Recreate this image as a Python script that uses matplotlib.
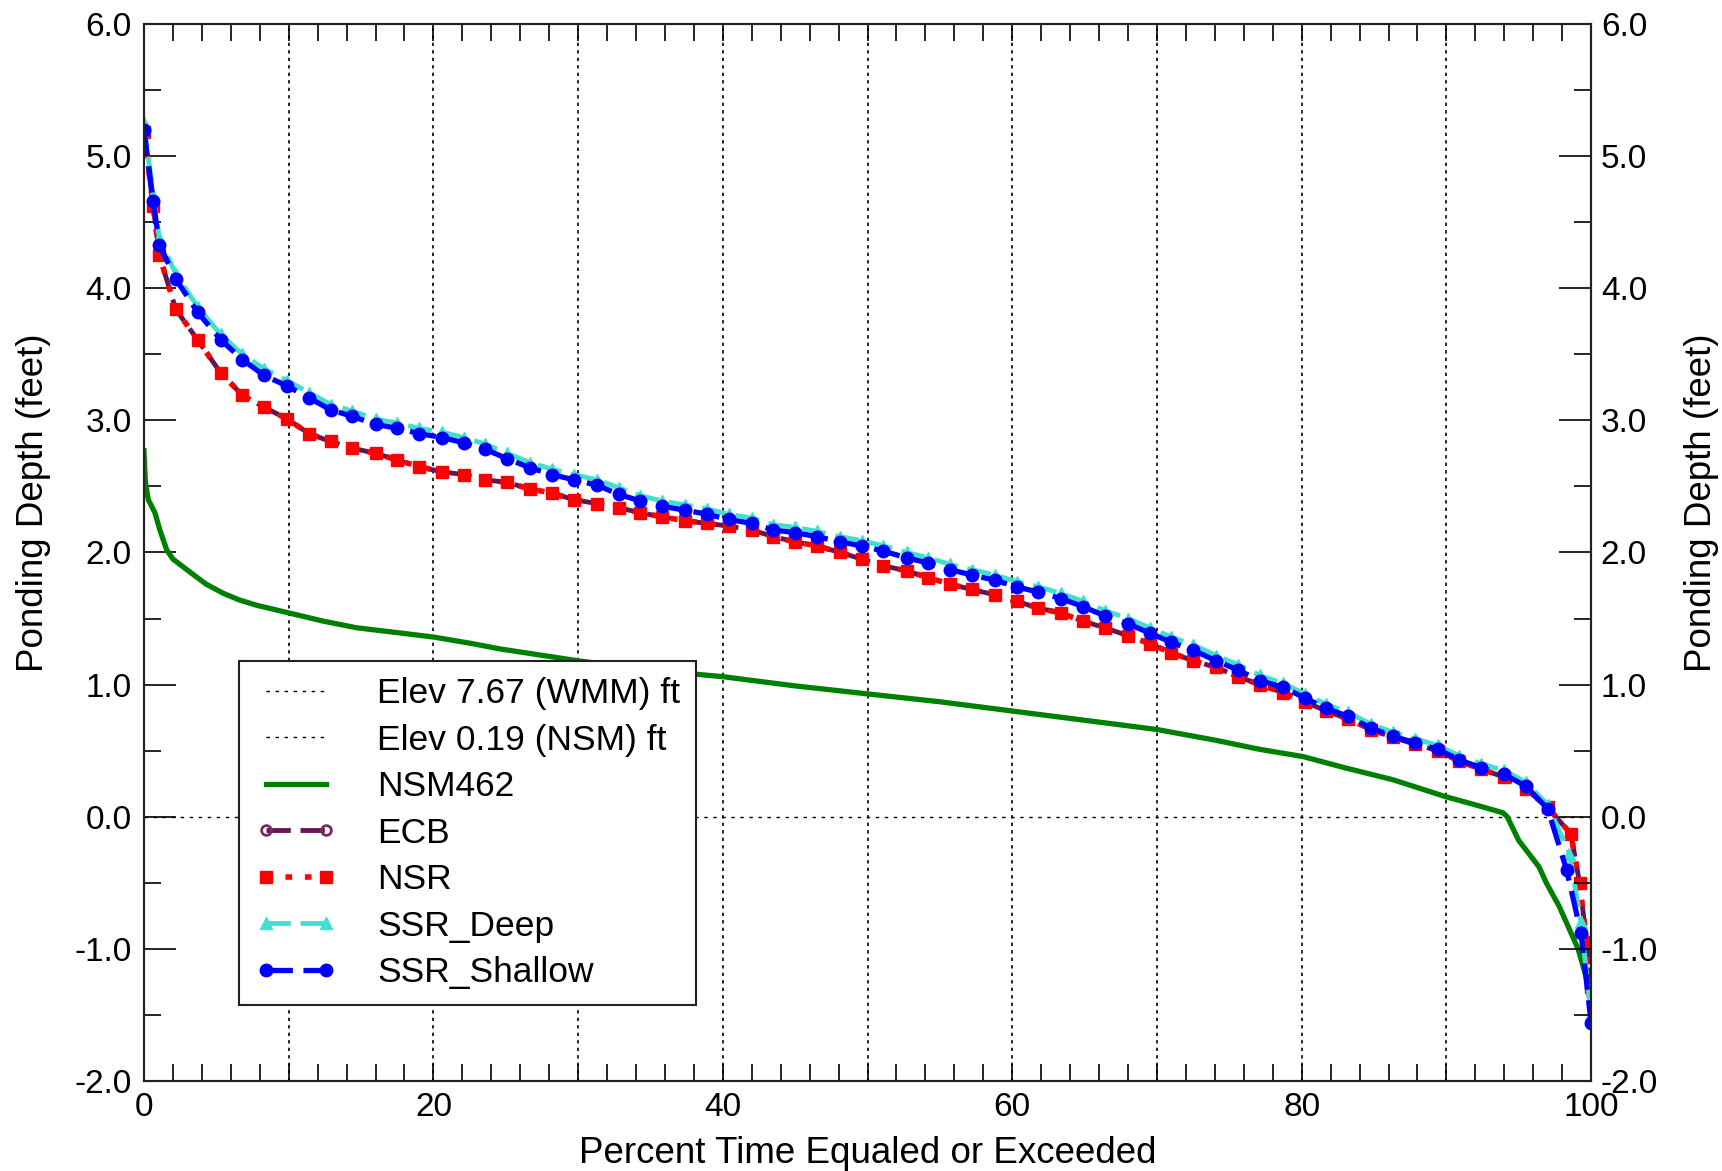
import matplotlib
matplotlib.use('Agg')
import matplotlib.pyplot as plt
from matplotlib.ticker import MultipleLocator, FormatStrFormatter

plt.rcParams['font.family'] = ['Liberation Sans', 'DejaVu Sans']

# reference elevations (ft); depths are measured from the NSM datum
wmm_elev = 7.67
nsm_elev = 0.19

# exceedance percent for the sampled model points (shared by all scenarios)
pct = [0, 0.64, 1.06, 2.2, 3.7, 5.3, 6.8, 8.3, 9.9, 11.4, 12.9, 14.4, 16.0, 17.5,
       19.0, 20.6, 22.1, 23.6, 25.1, 26.7, 28.2, 29.7, 31.3, 32.8, 34.3, 35.8,
       37.4, 38.9, 40.4, 42.0, 43.5, 45.0, 46.5, 48.1, 49.6, 51.1, 52.7, 54.2,
       55.7, 57.2, 58.8, 60.3, 61.8, 63.4, 64.9, 66.4, 68.0, 69.5, 71.0, 72.5,
       74.1, 75.6, 77.1, 78.7, 80.2, 81.7, 83.2, 84.8, 86.3, 87.8, 89.4, 90.9,
       92.4, 94.0, 95.5, 97.0]

ssr_shallow = [5.20, 4.66, 4.33, 4.07, 3.82, 3.61, 3.46, 3.34, 3.26, 3.17, 3.08, 3.03,
               2.97, 2.94, 2.90, 2.87, 2.83, 2.78, 2.71, 2.64, 2.59, 2.55, 2.51, 2.44,
               2.39, 2.35, 2.32, 2.29, 2.25, 2.22, 2.17, 2.15, 2.12, 2.08, 2.05, 2.01,
               1.96, 1.92, 1.87, 1.83, 1.79, 1.74, 1.70, 1.65, 1.59, 1.52, 1.46, 1.39,
               1.32, 1.26, 1.18, 1.11, 1.03, 0.98, 0.90, 0.82, 0.76, 0.67, 0.61, 0.56,
               0.51, 0.43, 0.37, 0.32, 0.23, 0.06]
ssr_shallow_tail_pct = [98.3, 99.3, 100]
ssr_shallow_tail = [-0.40, -0.88, -1.56]

ssr_deep = [5.25, 4.70, 4.38, 4.11, 3.86, 3.65, 3.50, 3.39, 3.30, 3.21, 3.12, 3.07,
            3.01, 2.98, 2.94, 2.91, 2.87, 2.82, 2.75, 2.68, 2.63, 2.59, 2.55, 2.49,
            2.43, 2.39, 2.36, 2.33, 2.29, 2.26, 2.21, 2.19, 2.16, 2.12, 2.09, 2.05,
            2.00, 1.96, 1.91, 1.87, 1.83, 1.78, 1.74, 1.69, 1.63, 1.56, 1.50, 1.43,
            1.36, 1.30, 1.22, 1.15, 1.07, 1.01, 0.93, 0.85, 0.79, 0.70, 0.64, 0.59,
            0.54, 0.46, 0.40, 0.35, 0.26, 0.09]
ssr_deep_tail_pct = [98.5, 99.3, 100]
ssr_deep_tail = [-0.28, -0.80, -1.50]

nsr = [5.18, 4.62, 4.25, 3.84, 3.61, 3.36, 3.19, 3.10, 3.01, 2.90, 2.84, 2.79,
       2.75, 2.70, 2.65, 2.61, 2.59, 2.55, 2.53, 2.48, 2.45, 2.40, 2.37, 2.34,
       2.30, 2.27, 2.24, 2.22, 2.20, 2.17, 2.12, 2.08, 2.05, 2.00, 1.95, 1.90,
       1.86, 1.81, 1.76, 1.72, 1.68, 1.63, 1.58, 1.54, 1.48, 1.43, 1.37, 1.31,
       1.24, 1.18, 1.13, 1.06, 1.00, 0.94, 0.87, 0.80, 0.74, 0.66, 0.60, 0.55,
       0.50, 0.42, 0.36, 0.30, 0.21, 0.07]
nsr_tail_pct = [98.6, 99.2, 99.7, 100]
nsr_tail = [-0.13, -0.50, -0.95, -1.29]

ecb = [5.18, 4.62, 4.25, 3.84, 3.61, 3.36, 3.19, 3.10, 3.01, 2.90, 2.84, 2.79,
       2.75, 2.70, 2.65, 2.61, 2.59, 2.55, 2.53, 2.48, 2.45, 2.40, 2.37, 2.34,
       2.30, 2.27, 2.24, 2.22, 2.20, 2.17, 2.12, 2.08, 2.05, 2.00, 1.95, 1.90,
       1.86, 1.81, 1.76, 1.72, 1.68, 1.63, 1.58, 1.54, 1.48, 1.43, 1.37, 1.31,
       1.24, 1.18, 1.13, 1.06, 1.00, 0.94, 0.87, 0.80, 0.74, 0.66, 0.60, 0.55,
       0.50, 0.42, 0.36, 0.30, 0.21, 0.07]
ecb_tail_pct = [98.6, 99.2, 99.7, 100]
ecb_tail = [-0.13, -0.50, -0.95, -1.29]

# observed gauge record
nsm462_pct = [0, 0.1, 0.3, 0.76, 1.1, 1.57, 2.0, 3.2, 4.3, 5.5, 6.6, 7.8, 10.1, 12.4,
              14.7, 17.0, 20.0, 22.7, 24.6, 30, 35, 40, 45, 50.8, 55, 60, 65, 70, 74,
              77.1, 80.1, 83, 86.3, 90, 92, 93.9, 94.2, 95.0, 96.4, 96.9, 97.8, 99.1,
              99.8, 100]
nsm462 = [2.77, 2.53, 2.40, 2.30, 2.17, 2.02, 1.95, 1.85, 1.76, 1.69, 1.64, 1.60, 1.54,
          1.48, 1.43, 1.40, 1.36, 1.31, 1.27, 1.18, 1.11, 1.06, 0.99, 0.92, 0.87, 0.80,
          0.73, 0.66, 0.58, 0.51, 0.455, 0.37, 0.28, 0.15, 0.09, 0.03, 0.0, -0.18, -0.38,
          -0.50, -0.68, -1.0, -1.27, -1.5]

fig = plt.figure(figsize=(17.22, 11.71), dpi=100)
ax = fig.add_axes([0.0836, 0.0769, 0.8404, 0.9026])

for v in range(10, 100, 10):
    ax.axvline(v, color='k', lw=1.2, ls=(0, (2, 2.5)), zorder=1)

dots = (0, (2.5, 4))
ax.axhline(wmm_elev - nsm_elev, color='k', lw=1, ls=dots, label='Elev 7.67 (WMM) ft')
ax.axhline(0.0, color='k', lw=1, ls=dots, label='Elev 0.19 (NSM) ft')

ax.plot(nsm462_pct, nsm462, color='#008000', lw=3.8, label='NSM462', zorder=3)
ax.plot(pct + ecb_tail_pct, ecb + ecb_tail, color='#641650', lw=3.5,
        ls=(0, (5, 2)), marker='o', ms=7, mfc='none', mec='#7a2a66', mew=2,
        label='ECB', zorder=4)
ax.plot(pct + nsr_tail_pct, nsr + nsr_tail, color='#ff0000', lw=4,
        ls=(0, (1.2, 2.3)), marker='s', ms=8, label='NSR', zorder=5)
ax.plot(pct + ssr_deep_tail_pct, ssr_deep + ssr_deep_tail, color='#40e0d0', lw=3.5,
        ls=(0, (5, 2)), marker='^', ms=9, label='SSR_Deep', zorder=6)
ax.plot(pct + ssr_shallow_tail_pct, ssr_shallow + ssr_shallow_tail, color='#0000ff',
        lw=3.8, ls=(0, (5, 2)), marker='o', ms=9, label='SSR_Shallow', zorder=7)

ax.set_xlim(0, 100)
ax.set_ylim(-2.0, 6.0)

ax.xaxis.set_major_locator(MultipleLocator(20))
ax.xaxis.set_minor_locator(MultipleLocator(2))
ax.yaxis.set_major_locator(MultipleLocator(1.0))
ax.yaxis.set_minor_locator(MultipleLocator(0.5))
ax.yaxis.set_major_formatter(FormatStrFormatter('%.1f'))

ax.tick_params(axis='x', which='both', direction='in', top=True, length=12,
               width=1.2, labelsize=24, pad=8)
ax.tick_params(axis='y', which='major', direction='in', length=23, width=1.2,
               labelsize=24, pad=9)
ax.tick_params(axis='y', which='minor', direction='in', length=12, width=1.2)

ax2 = ax.twinx()
ax2.set_ylim(ax.get_ylim())
ax2.yaxis.set_major_locator(MultipleLocator(1.0))
ax2.yaxis.set_minor_locator(MultipleLocator(0.5))
ax2.yaxis.set_major_formatter(FormatStrFormatter('%.1f'))
ax2.tick_params(axis='y', which='major', direction='in', length=23, width=1.2,
                labelsize=24, pad=7)
ax2.tick_params(axis='y', which='minor', direction='in', length=12, width=1.2)

for a in (ax, ax2):
    for s in a.spines.values():
        s.set_linewidth(1.5)
        s.set_color('#222222')

ax.set_xlabel('Percent Time Equaled or Exceeded', fontsize=26.5, labelpad=9)
ax.set_ylabel('Ponding Depth (feet)', fontsize=26.5, labelpad=17)
ax2.set_ylabel('Ponding Depth (feet)', fontsize=26.5, labelpad=19)
# both depth labels sit a little above the axis midpoint
ax.yaxis.label.set_y(0.547)
ax2.yaxis.label.set_y(0.547)

leg = ax.legend(loc='lower left', bbox_to_anchor=(0.0658, 0.0719), fontsize=25.5,
                numpoints=2, handlelength=2.3, handletextpad=1.15, labelspacing=0.38,
                borderpad=0.45, borderaxespad=0, fancybox=False, framealpha=1,
                edgecolor='#222222')
leg.get_frame().set_linewidth(1.5)
leg.set_zorder(10)

fig.savefig('out.png', dpi=100)
